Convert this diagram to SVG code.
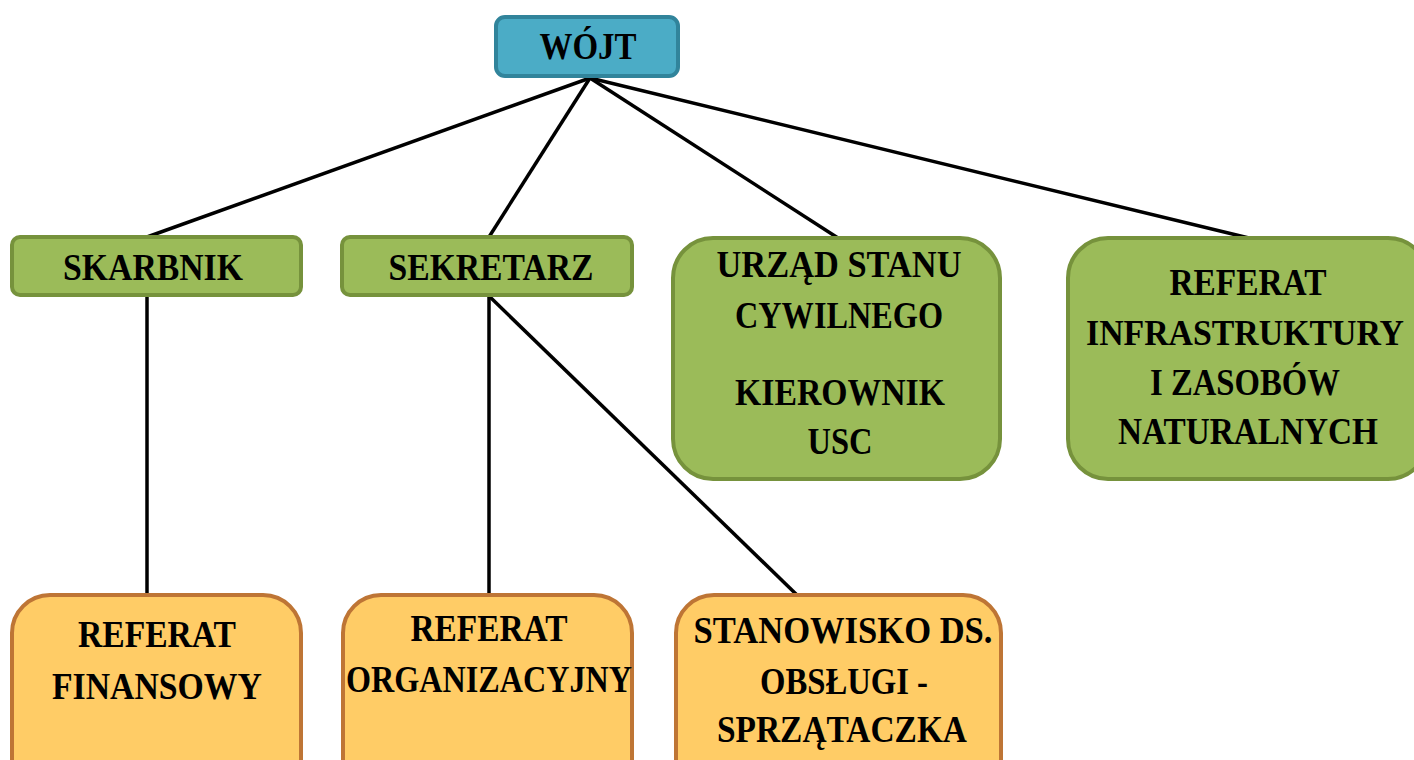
<svg xmlns="http://www.w3.org/2000/svg" width="1414" height="760" viewBox="0 0 1414 760">
<style>
.t{font-family:"Liberation Serif","Times New Roman",serif;font-weight:bold;font-size:37px;fill:#000;text-anchor:middle}
.blue{fill:#4BACC6;stroke:#31849B;stroke-width:4}
.green{fill:#9BBB59;stroke:#76923C;stroke-width:4}
.orange{fill:#FFCC66;stroke:#BE7535;stroke-width:4}
.c{stroke:#000;stroke-width:3.5;fill:none}
</style>
<rect width="1414" height="760" fill="#fff"/>
<g id="connectors">
<line class="c" x1="590" y1="78" x2="147" y2="237"/>
<line class="c" x1="590" y1="78" x2="489" y2="237"/>
<line class="c" x1="590" y1="78" x2="838" y2="238"/>
<line class="c" x1="590" y1="78" x2="1253" y2="239"/>
<line class="c" x1="147" y1="296" x2="147" y2="595"/>
<line class="c" x1="489" y1="296" x2="489" y2="595"/>
<line class="c" x1="489" y1="296" x2="797" y2="595"/>
</g>
<g id="wojt">
<rect class="blue" x="496" y="17" width="182" height="59" rx="9"/>
<text class="t" x="588" y="59" textLength="97" lengthAdjust="spacingAndGlyphs">WÓJT</text>
</g>
<g id="skarbnik">
<rect class="green" x="12" y="237" width="289" height="58" rx="8"/>
<text class="t" x="153" y="280" textLength="180" lengthAdjust="spacingAndGlyphs">SKARBNIK</text>
</g>
<g id="sekretarz">
<rect class="green" x="342" y="237" width="290" height="58" rx="8"/>
<text class="t" x="491" y="280" textLength="205" lengthAdjust="spacingAndGlyphs">SEKRETARZ</text>
</g>
<g id="usc">
<rect class="green" x="673" y="238" width="327" height="241" rx="40"/>
<text class="t" x="839" y="277" textLength="245" lengthAdjust="spacingAndGlyphs">URZĄD STANU</text>
<text class="t" x="839" y="328" textLength="208" lengthAdjust="spacingAndGlyphs">CYWILNEGO</text>
<text class="t" x="840" y="405" textLength="210" lengthAdjust="spacingAndGlyphs">KIEROWNIK</text>
<text class="t" x="840" y="454" textLength="65" lengthAdjust="spacingAndGlyphs">USC</text>
</g>
<g id="infrastruktura">
<rect class="green" x="1068" y="238" width="360" height="241" rx="40"/>
<text class="t" x="1248" y="295" textLength="157" lengthAdjust="spacingAndGlyphs">REFERAT</text>
<text class="t" x="1245" y="345" style="font-size:35px" textLength="318" lengthAdjust="spacingAndGlyphs">INFRASTRUKTURY</text>
<text class="t" x="1245" y="395" textLength="190" lengthAdjust="spacingAndGlyphs">I ZASOBÓW</text>
<text class="t" x="1248" y="444" textLength="260" lengthAdjust="spacingAndGlyphs">NATURALNYCH</text>
</g>
<g id="finansowy">
<rect class="orange" x="12" y="595" width="289" height="220" rx="38"/>
<text class="t" x="157" y="647" textLength="158" lengthAdjust="spacingAndGlyphs">REFERAT</text>
<text class="t" x="157" y="699" textLength="210" lengthAdjust="spacingAndGlyphs">FINANSOWY</text>
</g>
<g id="organizacyjny">
<rect class="orange" x="343" y="595" width="289" height="220" rx="38"/>
<text class="t" x="489" y="641" textLength="157" lengthAdjust="spacingAndGlyphs">REFERAT</text>
<text class="t" x="489" y="692" textLength="286" lengthAdjust="spacingAndGlyphs">ORGANIZACYJNY</text>
</g>
<g id="stanowisko">
<rect class="orange" x="676" y="595" width="325" height="220" rx="38"/>
<text class="t" x="843" y="643" textLength="299" lengthAdjust="spacingAndGlyphs">STANOWISKO DS.</text>
<text class="t" x="844" y="694" textLength="168" lengthAdjust="spacingAndGlyphs">OBSŁUGI -</text>
<text class="t" x="842" y="742" textLength="250" lengthAdjust="spacingAndGlyphs">SPRZĄTACZKA</text>
</g>
</svg>
